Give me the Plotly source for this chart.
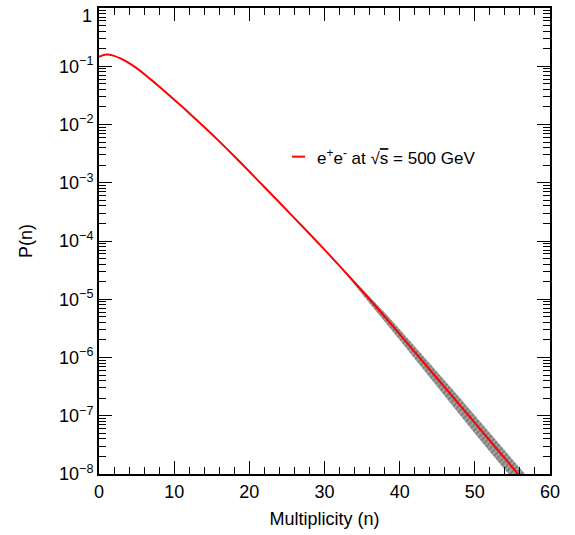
import plotly.graph_objects as go

# ---- data ----
multiplicity = [0, 1, 2, 3, 4, 5, 6, 7, 8, 9, 10, 11, 12, 13, 14, 16, 18, 20, 22, 24,
                26, 28, 30, 32, 34, 36, 38, 40, 42, 44, 46, 48, 50, 52, 54, 56, 57]
probability = [0.1455, 0.1585, 0.1507, 0.1334, 0.1135, 0.0927, 0.0738, 0.0578, 0.0450,
               0.0348, 0.0267, 0.0205, 0.01567, 0.01194, 0.00908, 0.00513, 0.00285,
               1.556e-3, 8.43e-4, 4.57e-4, 2.47e-4, 1.33e-4, 7.11e-5, 3.75e-5, 1.95e-5,
               1.00e-5, 5.05e-6, 2.52e-6, 1.25e-6, 6.19e-7, 3.07e-7, 1.52e-7, 7.53e-8,
               3.73e-8, 1.85e-8, 9.16e-9, 6.46e-9]
# error band (half widths in decades), from n=30 onward
band_n = [30, 32, 34, 36, 38, 40, 42, 44, 46, 48, 50, 52, 54, 56, 57]
band_up_dec = [0.0, 0.012, 0.03, 0.05, 0.068, 0.085, 0.10, 0.112, 0.12, 0.127, 0.132, 0.136, 0.14, 0.14, 0.14]
band_dn_dec = [0.0, 0.012, 0.035, 0.06, 0.082, 0.10, 0.12, 0.14, 0.155, 0.17, 0.18, 0.19, 0.20, 0.20, 0.20]

ytick_vals = [1e-8, 1e-7, 1e-6, 1e-5, 1e-4, 1e-3, 1e-2, 1e-1, 1]
ytick_text = ["10<sup>\u22128</sup>", "10<sup>\u22127</sup>", "10<sup>\u22126</sup>",
              "10<sup>\u22125</sup>", "10<sup>\u22124</sup>", "10<sup>\u22123</sup>",
              "10<sup>\u22122</sup>", "10<sup>\u22121</sup>", ""]
top_tick_label = "1"
xtick_vals = [0, 10, 20, 30, 40, 50, 60]
legend_label = "e<sup>+</sup>e<sup>-</sup> at \u221a<span style='text-decoration:overline'>s</span> = 500 GeV"

# ---- build ----
p_lookup = dict(zip(multiplicity, probability))
band_center = [p_lookup[n] for n in band_n]
upper = [p * 10 ** d for p, d in zip(band_center, band_up_dec)]
lower = [p / 10 ** d for p, d in zip(band_center, band_dn_dec)]

minor_y = [m * 10 ** e for e in range(-8, 0) for m in range(2, 10)]

fig = go.Figure()
fig.add_trace(go.Scatter(
    x=band_n + band_n[::-1], y=upper + lower[::-1],
    fill="toself", mode="lines", line=dict(width=0),
    fillcolor="#8a8a8a",
    fillpattern=dict(shape="/", fgcolor="#555555", bgcolor="#a0a0a0", size=4, solidity=0.45),
    showlegend=False, hoverinfo="skip"))
fig.add_trace(go.Scatter(
    x=multiplicity, y=probability, mode="lines",
    line=dict(color="#ff0000", width=2, shape="spline", smoothing=1.0),
    showlegend=False))

font = "Liberation Sans, Arial, Helvetica, sans-serif"
fig.update_layout(
    width=575, height=535,
    margin=dict(l=99, r=25, t=8, b=61),
    paper_bgcolor="white", plot_bgcolor="white",
    font=dict(family=font, size=18, color="black"),
    xaxis=dict(range=[0, 60], tickmode="array", tickvals=xtick_vals,
               ticks="inside", ticklen=13, tickwidth=1, tickcolor="black",
               minor=dict(dtick=2, ticks="inside", ticklen=7, tickwidth=1, tickcolor="black", showgrid=False),
               showline=True, linecolor="black", linewidth=2, mirror="allticks",
               showgrid=False, zeroline=False, automargin=False, ticklabeloverflow="allow",
               tickfont=dict(size=18),
               title=dict(text="Multiplicity (n)", font=dict(size=18), standoff=12)),
    yaxis=dict(type="log", range=[-8, 0], tickmode="array", tickvals=ytick_vals, ticktext=ytick_text,
               ticks="inside", ticklen=13, tickwidth=1, tickcolor="black",
               minor=dict(tickmode="array", tickvals=minor_y, ticks="inside", ticklen=7,
                          tickwidth=1, tickcolor="black", showgrid=False),
               showline=True, linecolor="black", linewidth=2, mirror="allticks",
               showgrid=False, zeroline=False, automargin=False, ticklabeloverflow="allow",
               tickfont=dict(size=18),
               title=dict(text="P(n)", font=dict(size=18), standoff=22)),
)

# top "1" tick label, nudged down so it stays inside the page (as in the reference)
fig.add_annotation(xref="paper", yref="paper", x=0, y=1, xanchor="right", yanchor="top",
                   xshift=-5, yshift=4, text=top_tick_label, showarrow=False,
                   font=dict(size=18, family=font))

# legend drawn as annotation + short line sample
fig.add_shape(type="line", xref="paper", yref="paper", x0=0.428, x1=0.457, y0=0.681, y1=0.681,
              line=dict(color="#ff0000", width=2))
fig.add_annotation(xref="paper", yref="paper", x=0.479, y=0.681, xanchor="left", yanchor="middle",
                   text=legend_label, showarrow=False, font=dict(size=17, family=font))

fig.write_html("out.html")
